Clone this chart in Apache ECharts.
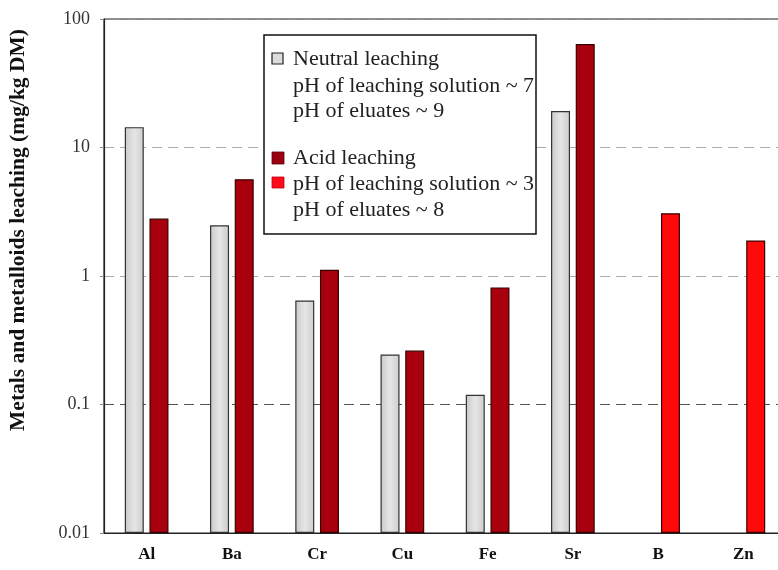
<!DOCTYPE html>
<html>
<head>
<meta charset="utf-8">
<script src="https://cdn.jsdelivr.net/npm/echarts@6/dist/echarts.min.js"></script>
<style>
  html, body { margin: 0; padding: 0; background: #fff; }
  #main { width: 778px; height: 570px; }
</style>
</head>
<body>
<div id="main"></div>
<script>
var elements = ['Al', 'Ba', 'Cr', 'Cu', 'Fe', 'Sr', 'B', 'Zn'];
// neutral leaching (pH ~7), mg/kg DM
var neutralValues = [14.4, 2.48, 0.645, 0.245, 0.119, 19.2, null, null];
// acid leaching (pH ~3), mg/kg DM
var acidValues = [2.8, 5.66, 1.12, 0.263, 0.815, 63.8, 3.08, 1.89];
// B and Zn are drawn in bright red
var brightRed = ['B', 'Zn'];
var yTicks = [0.01, 0.1, 1, 10, 100];

var serif = 'Liberation Serif';

var chart = echarts.init(document.getElementById('main'));

var greyFill = {
	type: 'linear', x: 0, y: 0, x2: 1, y2: 0,
	colorStops: [
		{ offset: 0, color: '#c9c9c9' },
		{ offset: 0.5, color: '#e6e6e6' },
		{ offset: 1, color: '#cdcdcd' }
	]
};

var acidData = acidValues.map(function(v, i) {
	if (brightRed.indexOf(elements[i]) >= 0) {
		return { value: v, itemStyle: { color: '#ff0a0a' } };
	}
	return v;
});

// legend lines drawn as graphic text
var legendLines = [
	{ text: 'Neutral leaching', y: 59 },
	{ text: 'pH of leaching solution ~ 7', y: 86 },
	{ text: 'pH of eluates ~ 9', y: 111 },
	{ text: 'Acid leaching', y: 158 },
	{ text: 'pH of leaching solution ~ 3', y: 184 },
	{ text: 'pH of eluates ~ 8', y: 210 }
];

var graphics = [{
	type: 'rect',
	shape: { x: 264, y: 35, width: 272, height: 199 },
	style: { fill: '#fff', stroke: '#111', lineWidth: 1.5 },
	z: 10
}, {
	type: 'rect',
	shape: { x: 272, y: 53, width: 11, height: 11 },
	style: { fill: '#dcdcdc', stroke: '#222', lineWidth: 1.2 },
	z: 11
}, {
	type: 'rect',
	shape: { x: 272, y: 152, width: 12, height: 12 },
	style: { fill: '#9a0010', stroke: '#5a0008', lineWidth: 0.8 },
	z: 11
}, {
	type: 'rect',
	shape: { x: 272, y: 177, width: 12, height: 11 },
	style: { fill: '#ff0a1a', stroke: '#c00010', lineWidth: 0.8 },
	z: 11
}, {
	// y axis title
	type: 'text',
	x: 18,
	y: 230,
	rotation: Math.PI / 2,
	style: {
		text: 'Metals and metalloids leaching (mg/kg DM)',
		font: 'bold 21.5px "' + serif + '"',
		fill: '#111',
		textAlign: 'center',
		textVerticalAlign: 'middle'
	},
	z: 11
}];
legendLines.forEach(function(l) {
	graphics.push({
		type: 'text',
		x: 293,
		y: l.y,
		style: {
			text: l.text,
			font: '22px "' + serif + '"',
			fill: '#222',
			textVerticalAlign: 'middle'
		},
		z: 11
	});
});

var option = {
	backgroundColor: '#fff',
	animation: false,
	grid: {
		left: 104,
		top: 19,
		bottom: 37,
		width: 682,
		outerBoundsMode: 'none',
		containLabel: false,
		show: true,
		borderColor: '#222',
		borderWidth: 1.2,
		backgroundColor: 'transparent'
	},
	xAxis: {
		type: 'category',
		data: elements,
		axisTick: { show: false },
		axisLine: { show: true, lineStyle: { color: '#222', width: 1.2 } },
		axisLabel: {
			margin: 13,
			fontFamily: serif,
			fontWeight: 'bold',
			fontSize: 17,
			color: '#111'
		}
	},
	yAxis: {
		type: 'log',
		logBase: 10,
		min: 0.01,
		max: 100,
		startValue: 0.01,
		axisLine: { show: true, lineStyle: { color: '#222', width: 1.2 } },
		axisTick: { show: true, length: 4, lineStyle: { color: '#888' } },
		axisLabel: {
			margin: 14,
			fontFamily: serif,
			fontSize: 18,
			color: '#333',
			formatter: function(v) {
				for (var i = 0; i < yTicks.length; i++) {
					if (Math.abs(v - yTicks[i]) / yTicks[i] < 1e-6) return String(yTicks[i]);
				}
				return '';
			}
		},
		splitLine: {
			show: true,
			lineStyle: {
				color: ['#888', '#555', '#aaa', '#aaa', '#888'],
				type: [10, 6],
				width: 1
			}
		}
	},
	series: [{
		name: 'Neutral leaching',
		type: 'bar',
		data: neutralValues,
		barWidth: 19,
		barGap: '30%',
		itemStyle: { color: greyFill, borderColor: '#333', borderWidth: 1.2 }
	}, {
		name: 'Acid leaching',
		type: 'bar',
		data: acidData,
		barWidth: 19,
		barGap: '30%',
		itemStyle: { color: '#a8000c', borderColor: '#3a0000', borderWidth: 1.2 }
	}],
	graphic: graphics
};

chart.setOption(option);
</script>
</body>
</html>
